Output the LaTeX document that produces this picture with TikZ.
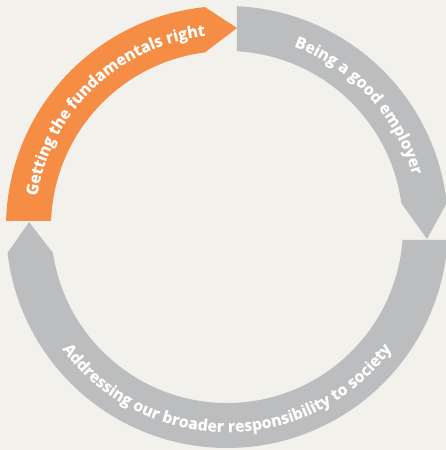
\documentclass[tikz,border=0pt]{standalone}
\usepackage{fontspec}
\setmainfont{Open Sans}
\newfontfamily\bandfont{Open Sans}[BoldFeatures={FakeBold=0.6}]
\usetikzlibrary{decorations.text}
\definecolor{bg}{HTML}{F2F1EC}
\definecolor{org}{HTML}{F68D45}
\definecolor{gry}{HTML}{BCBDBF}
\tikzset{
  bandtext/.style={decorate, decoration={text along path, text align=center, text color=white}},
}
\begin{document}
\begin{tikzpicture}[x=1pt,y=1pt]
\fill[bg] (0,0) rectangle (446,450);
\useasboundingbox (0,0) rectangle (446,450);
\begin{scope}[shift={(227,223)}]
% orange band
\fill[org] (178.44:221) arc[start angle=178.44, end angle=95.71, radius=221pt]
  -- (87.12:199.25) -- (97.17:176) arc[start angle=97.17, end angle=178.04, radius=176pt] -- cycle;
% gray band top right
\fill[gry] (87.41:221) arc[start angle=87.41, end angle=6.23, radius=221pt]
  -- (-3.43:200.4) -- (7.77:176) arc[start angle=7.77, end angle=86.75, radius=176pt] -- cycle;
% gray band bottom
\fill[gry] (-3.37:221) arc[start angle=-3.37, end angle=-173.26, radius=221pt]
  -- (-181.45:198) -- (-171.5:176) arc[start angle=-171.5, end angle=-4.22, radius=176pt] -- cycle;
% texts
\path[bandtext, decoration={text={|\bandfont\bfseries\fontsize{16}{19}\selectfont|Getting the fundamentals right}}]
  (178.6:192.5) arc[start angle=178.6, end angle=88.6, radius=192.5pt];
\path[bandtext, decoration={text={|\bandfont\bfseries\fontsize{16}{19}\selectfont|Being a good employer}}]
  (87.65:192.5) arc[start angle=87.65, end angle=-2.35, radius=192.5pt];
\path[bandtext, decoration={text={|\bandfont\bfseries\fontsize{16}{19}\selectfont|Addressing our broader responsibility to society}}]
  (200:205) arc[start angle=200, end angle=340, radius=205pt];
\end{scope}
\end{tikzpicture}
\end{document}
